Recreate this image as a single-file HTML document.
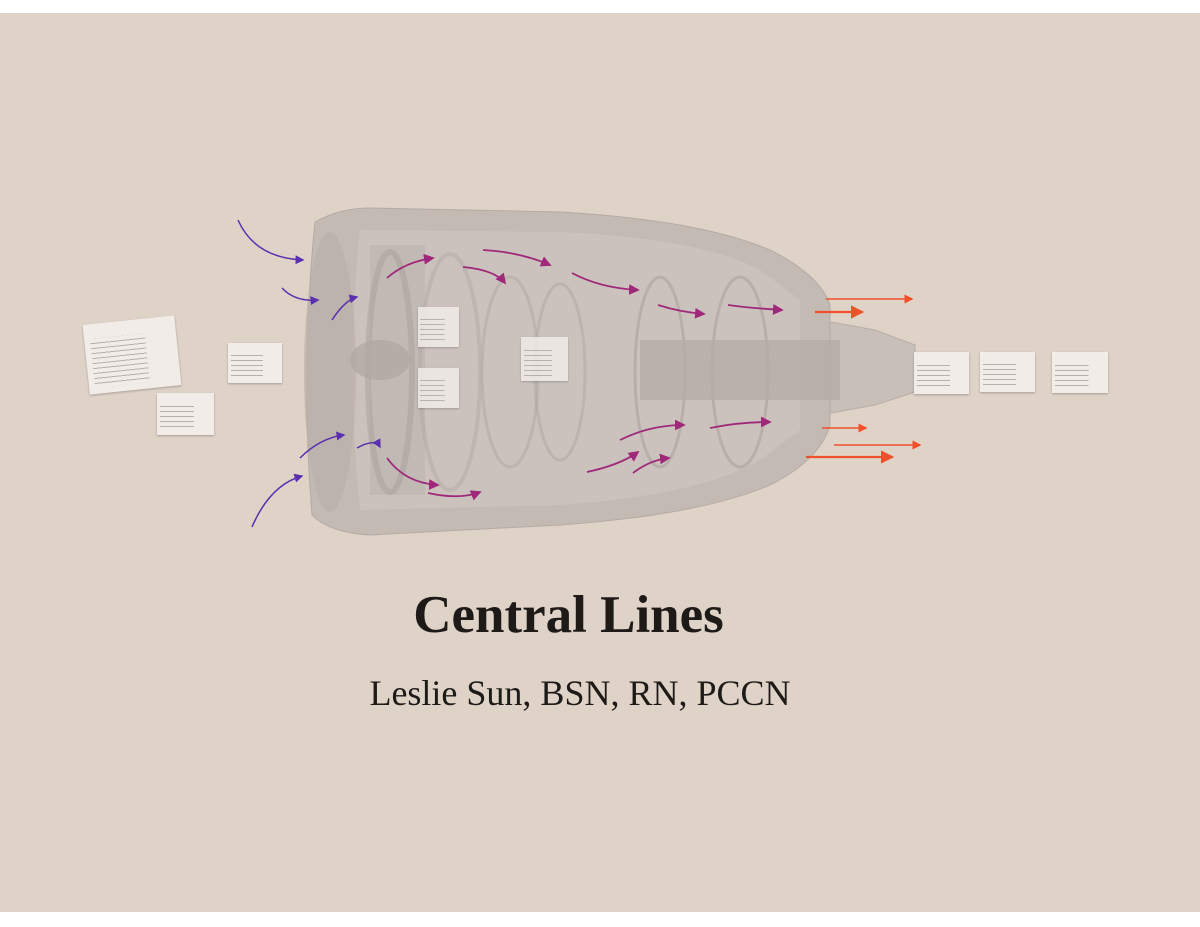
<!DOCTYPE html>
<html><head><style>
html,body{margin:0;padding:0;background:#fff;}
.wrap{position:relative;width:1200px;height:927px;background:#fff;overflow:hidden;}
.bg{position:absolute;left:0;top:13px;width:1200px;height:899px;background:#dfd2c7;}
svg{position:absolute;left:0;top:0;}
.t{position:absolute;left:0;width:1137px;text-align:center;font-family:"Liberation Serif",serif;color:#1d1a18;}
.card{position:absolute;background:#f1ece8;box-shadow:0 1px 2px rgba(0,0,0,.25);
background-image:repeating-linear-gradient(180deg,transparent 0,transparent 4px,#b8b0aa 4px,#b8b0aa 5px);
background-size:60% 70%;background-position:15% 70%;background-repeat:no-repeat;}
</style></head><body><div class="wrap">
<div class="bg"></div>
<svg width="1200" height="927" viewBox="0 0 1200 927">
<defs>
<marker id="mp" markerWidth="6" markerHeight="6" refX="5" refY="3" orient="auto"><path d="M0,0L6,3L0,6z" fill="#5a2fb0"/></marker>
<marker id="mm" markerWidth="6" markerHeight="6" refX="5" refY="3" orient="auto"><path d="M0,0L6,3L0,6z" fill="#a0287a"/></marker>
<marker id="mo" markerWidth="6" markerHeight="6" refX="5" refY="3" orient="auto"><path d="M0,0L6,3L0,6z" fill="#f0502a"/></marker>
</defs>
<path d="M820,320 L875,330 L915,345 L915,392 L875,405 L820,415 Z" fill="#c8bfb9" stroke="#b8aea8"/>
<path d="M315,222 Q340,208 370,208 L560,212 Q700,220 770,250 Q820,275 830,305 L830,425 Q820,460 770,485 Q700,515 560,525 L370,535 Q330,533 312,515 Q300,370 315,222 Z" fill="#c4bab4" stroke="#b5aba5"/>
<path d="M360,230 Q345,370 360,510 L560,505 Q700,495 760,460 L800,430 L800,300 L760,270 Q700,238 560,232 Z" fill="#cbc2bd"/>
<ellipse cx="330" cy="372" rx="26" ry="140" fill="#bab0aa" opacity="0.7"/>
<rect x="370" y="245" width="55" height="250" fill="#b8afaa" opacity="0.5"/>
<ellipse cx="390" cy="372" rx="22" ry="120" fill="none" stroke="#a9a09b" stroke-width="6" opacity="0.5"/>
<ellipse cx="450" cy="372" rx="30" ry="118" fill="none" stroke="#b3aaa5" stroke-width="4" opacity="0.5"/>
<ellipse cx="510" cy="372" rx="28" ry="95" fill="none" stroke="#b3aaa5" stroke-width="3" opacity="0.6"/>
<ellipse cx="560" cy="372" rx="25" ry="88" fill="none" stroke="#b3aaa5" stroke-width="3" opacity="0.6"/>
<ellipse cx="660" cy="372" rx="25" ry="95" fill="none" stroke="#aaa19c" stroke-width="3" opacity="0.6"/>
<ellipse cx="740" cy="372" rx="28" ry="95" fill="none" stroke="#aaa19c" stroke-width="3" opacity="0.6"/>
<ellipse cx="380" cy="360" rx="30" ry="20" fill="#b0a7a2" opacity="0.7"/>
<rect x="640" y="340" width="200" height="60" fill="#b3aaa5" opacity="0.7"/>
<g fill="none" stroke="#5a2fb0" stroke-width="1.5" marker-end="url(#mp)">
<path d="M238,220 Q255,258 303,260"/>
<path d="M282,288 Q295,302 318,300"/>
<path d="M332,320 Q345,300 357,297"/>
<path d="M300,458 Q320,438 344,435"/>
<path d="M357,448 Q375,438 380,447" />
<path d="M252,527 Q270,485 302,476"/>
</g>
<g fill="none" stroke="#a0287a" stroke-width="1.8" marker-end="url(#mm)">
<path d="M387,278 Q405,262 433,258"/>
<path d="M483,250 Q520,252 550,265"/>
<path d="M463,267 Q495,270 505,283"/>
<path d="M572,273 Q600,288 638,290"/>
<path d="M387,458 Q405,483 438,485"/>
<path d="M428,493 Q460,500 480,492"/>
<path d="M587,472 Q620,465 638,452"/>
<path d="M658,305 Q680,312 704,314"/>
<path d="M728,305 Q750,308 782,310"/>
<path d="M633,473 Q650,460 669,458"/>
<path d="M620,440 Q650,425 684,425"/>
<path d="M710,428 Q740,422 770,422"/>
</g>
<g fill="none" stroke="#f0502a" stroke-width="1.5" marker-end="url(#mo)">
<path d="M826,299 L912,299"/>
<path d="M815,312 L862,312" stroke-width="2.2"/>
<path d="M822,428 L866,428"/>
<path d="M834,445 L920,445"/>
<path d="M806,457 L892,457" stroke-width="2.2"/>
</g>
</svg>
<div class="card" style="left:86px;top:320px;width:92px;height:70px;transform:rotate(-6deg);"></div>
<div class="card" style="left:157px;top:393px;width:57px;height:42px;"></div>
<div class="card" style="left:228px;top:343px;width:54px;height:40px;"></div>
<div class="card" style="left:418px;top:307px;width:41px;height:40px;opacity:.85"></div>
<div class="card" style="left:418px;top:368px;width:41px;height:40px;opacity:.85"></div>
<div class="card" style="left:521px;top:337px;width:47px;height:44px;opacity:.85"></div>
<div class="card" style="left:914px;top:352px;width:55px;height:42px;"></div>
<div class="card" style="left:980px;top:352px;width:55px;height:40px;"></div>
<div class="card" style="left:1052px;top:352px;width:56px;height:41px;"></div>
<div class="t" style="top:585px;font-size:53px;font-weight:bold;">Central Lines</div>
<div class="t" style="top:672px;font-size:36px;left:0;width:1160px;">Leslie Sun, BSN, RN, PCCN</div>
</div></body></html>
